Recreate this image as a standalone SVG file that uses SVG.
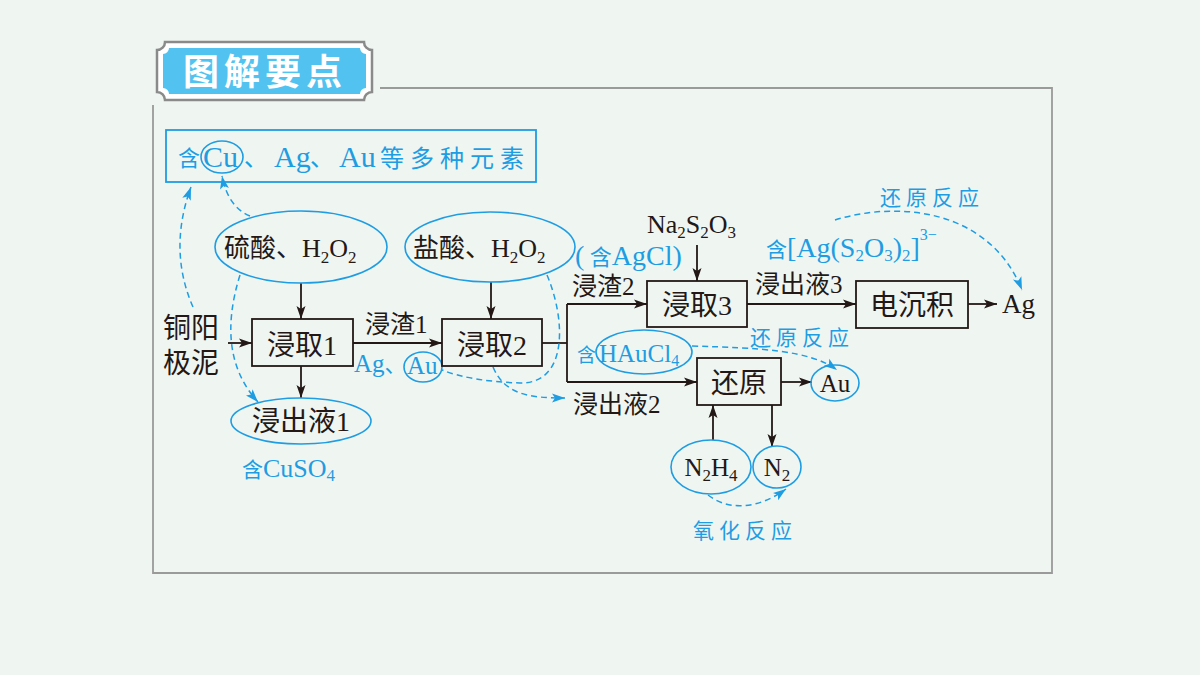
<svg xmlns="http://www.w3.org/2000/svg" width="1200" height="675" viewBox="0 0 1200 675">
<defs>
<marker id="ab" markerUnits="userSpaceOnUse" markerWidth="14" markerHeight="10" refX="13" refY="5" orient="auto"><path d="M0,0.5 L13,5 L0,9.5 L3,5 z" fill="#231815"/></marker>
<marker id="au" markerUnits="userSpaceOnUse" markerWidth="14" markerHeight="10" refX="13" refY="5" orient="auto"><path d="M0,0.5 L13,5 L0,9.5 L3,5 z" fill="#1e9de3"/></marker>
<style>
.bx{fill:none;stroke:#231815;stroke-width:1.8}
.el{fill:none;stroke:#1e9de3;stroke-width:1.6}
.ln{fill:none;stroke:#231815;stroke-width:1.8}
.da{fill:none;stroke:#1e9de3;stroke-width:1.5;stroke-dasharray:6 4}
.t{font-family:"Liberation Serif","Noto Sans CJK SC",serif;fill:#231815;font-size:27px}
.b{font-family:"Liberation Serif","Noto Sans CJK SC",serif;fill:#1e9de3;font-size:26px}
.bc{font-family:"Noto Sans CJK SC",sans-serif;fill:#1e9de3;font-size:21px;letter-spacing:5px}
</style>
</defs>
<rect width="1200" height="675" fill="#eff5f1"/>
<g id="frame">
<path d="M380,88 H1052 V573 H153 V105" fill="none" stroke="#9a9a9a" stroke-width="1.8"/>
</g>
<g id="badge">
<path d="M165,42 H364 A8,8 0 0 0 372,50 V92 A8,8 0 0 0 364,100 H165 A8,8 0 0 0 157,92 V50 A8,8 0 0 0 165,42 z" fill="#ffffff" stroke="#8a8a8a" stroke-width="2.5"/>
<path d="M169,48 H360 A6,6 0 0 0 366,54 V88 A6,6 0 0 0 360,94 H169 A6,6 0 0 0 163,88 V54 A6,6 0 0 0 169,48 z" fill="#52c2f0"/>
<text x="183" y="85" font-family="Noto Sans CJK SC,sans-serif" font-weight="bold" font-size="36" fill="#ffffff" letter-spacing="5">图解要点</text>
</g>
<g id="connectors">
<line class="ln" x1="228" y1="343" x2="252" y2="343" marker-end="url(#ab)"/>
<line class="ln" x1="301" y1="283" x2="301" y2="319" marker-end="url(#ab)"/>
<line class="ln" x1="301" y1="366" x2="301" y2="398" marker-end="url(#ab)"/>
<line class="ln" x1="353" y1="343" x2="442" y2="343" marker-end="url(#ab)"/>
<line class="ln" x1="491" y1="282" x2="491" y2="319" marker-end="url(#ab)"/>
<polyline class="ln" points="542,343 567,343"/>
<line class="ln" x1="567" y1="304" x2="567" y2="382"/>
<line class="ln" x1="567" y1="304" x2="647" y2="304" marker-end="url(#ab)"/>
<line class="ln" x1="567" y1="382" x2="697" y2="382" marker-end="url(#ab)"/>
<line class="ln" x1="697" y1="245" x2="697" y2="281" marker-end="url(#ab)"/>
<line class="ln" x1="747" y1="304" x2="856" y2="304" marker-end="url(#ab)"/>
<line class="ln" x1="968" y1="304" x2="997" y2="304" marker-end="url(#ab)"/>
<line class="ln" x1="781" y1="382" x2="812" y2="382" marker-end="url(#ab)"/>
<line class="ln" x1="713" y1="440" x2="713" y2="405" marker-end="url(#ab)"/>
<line class="ln" x1="772" y1="405" x2="772" y2="447" marker-end="url(#ab)"/>
<path class="da" d="M193,307 Q168,250 191,187" marker-end="url(#au)"/>
<path class="da" d="M250,216 Q228,207 222,176" marker-end="url(#au)"/>
<path class="da" d="M240,275 Q215,355 258,402" marker-end="url(#au)"/>
<path class="da" d="M547,275 C566,320 568,384 520,383 C490,382 462,378 442,370"/>
<path class="da" d="M493,367 C505,395 530,398 565,398" marker-end="url(#au)"/>
<path class="da" d="M835,220 C900,200 990,210 1022,290" marker-end="url(#au)"/>
<path class="da" d="M692,346 C760,348 810,350 837,370" marker-end="url(#au)"/>
<path class="da" d="M708,495 C730,512 760,508 786,489" marker-end="url(#au)"/>
</g>
<g id="top-box">
<rect x="166" y="130" width="370" height="52" fill="none" stroke="#1e9de3" stroke-width="1.8"/>
<ellipse class="el" cx="222" cy="157" rx="21" ry="16"/>
<text class="b" x="178" y="166" style="font-size:22px">含</text>
<text class="b" x="203" y="167" style="font-size:30px">Cu</text>
<text class="b" x="244" y="166" style="font-size:24px">、</text>
<text class="b" x="274" y="167" style="font-size:30px">Ag</text>
<text class="b" x="310" y="166" style="font-size:24px">、</text>
<text class="b" x="339" y="167" style="font-size:30px">Au</text>
<text class="bc" x="380" y="167" style="font-size:24px;letter-spacing:6px">等多种元素</text>
</g>
<g id="copper-mud">
<text class="t" x="163" y="338" style="font-size:28px">铜阳</text>
<text class="t" x="163" y="373" style="font-size:28px">极泥</text>
</g>
<g id="h2so4">
<ellipse class="el" cx="301" cy="247" rx="86" ry="36"/>
<text class="t" x="224" y="257" style="font-size:26px">硫酸、H<tspan font-size="17" dy="6">2</tspan><tspan dy="-6">O</tspan><tspan font-size="17" dy="6">2</tspan></text>
</g>
<g id="hcl">
<ellipse class="el" cx="490" cy="247" rx="85" ry="35"/>
<text class="t" x="413" y="257" style="font-size:26px">盐酸、H<tspan font-size="17" dy="6">2</tspan><tspan dy="-6">O</tspan><tspan font-size="17" dy="6">2</tspan></text>
</g>
<g id="leach1">
<rect class="bx" x="252" y="319" width="101" height="47"/>
<text class="t" x="302" y="355" text-anchor="middle" style="font-size:28px">浸取1</text>
</g>
<g id="leachate1">
<ellipse class="el" cx="301" cy="421" rx="70" ry="23"/>
<text class="t" x="301" y="431" text-anchor="middle" style="font-size:28px">浸出液1</text>
<text class="b" x="242" y="477"><tspan font-size="21">含</tspan>CuSO<tspan font-size="17" dy="4">4</tspan></text>
</g>
<g id="residue1">
<text class="t" x="365" y="333" style="font-size:25px">浸渣1</text>
<text class="b" x="354" y="372" style="font-size:25px">Ag<tspan font-size="22">、</tspan></text>
<ellipse class="el" cx="423" cy="367" rx="19" ry="15"/>
<text class="b" x="407" y="374" style="font-size:25px">Au</text>
</g>
<g id="leach2">
<rect class="bx" x="442" y="319" width="100" height="47"/>
<text class="t" x="492" y="355" text-anchor="middle" style="font-size:28px">浸取2</text>
</g>
<g id="residue2">
<text class="t" x="572" y="295" style="font-size:25px">浸渣2</text>
<text class="b" x="575" y="265" style="font-size:28px">(<tspan font-size="22"> 含</tspan>AgCl)</text>
</g>
<g id="na2s2o3">
<text class="t" x="647" y="233" style="font-size:26px">Na<tspan font-size="17" dy="5">2</tspan><tspan dy="-5">S</tspan><tspan font-size="17" dy="5">2</tspan><tspan dy="-5">O</tspan><tspan font-size="17" dy="5">3</tspan></text>
</g>
<g id="leach3">
<rect class="bx" x="647" y="281" width="100" height="46"/>
<text class="t" x="697" y="315" text-anchor="middle" style="font-size:28px">浸取3</text>
</g>
<g id="leachate3">
<text class="t" x="755" y="293" style="font-size:25px">浸出液3</text>
<text class="b" x="766" y="257" style="font-size:28px"><tspan font-size="21">含</tspan>[Ag(S<tspan font-size="17" dy="4">2</tspan><tspan dy="-4">O</tspan><tspan font-size="17" dy="4">3</tspan><tspan dy="-4">)</tspan><tspan font-size="17" dy="4">2</tspan><tspan dy="-4">]</tspan><tspan font-size="16" dy="-17">3−</tspan></text>
<text class="bc" x="880" y="205">还原反应</text>
</g>
<g id="electro">
<rect class="bx" x="856" y="281" width="112" height="47"/>
<text class="t" x="912" y="315" text-anchor="middle" style="font-size:28px">电沉积</text>
</g>
<g id="ag">
<text class="t" x="1002" y="313" style="font-size:27px">Ag</text>
</g>
<g id="leachate2">
<text class="t" x="573" y="413" style="font-size:25px">浸出液2</text>
<text class="b" x="577" y="362" style="font-size:19px">含</text>
<ellipse class="el" cx="644" cy="352" rx="48" ry="22"/>
<text class="b" x="599" y="362" style="font-size:25px">HAuCl<tspan font-size="16" dy="4">4</tspan></text>
<text class="bc" x="750" y="345">还原反应</text>
</g>
<g id="reduce">
<rect class="bx" x="697" y="358" width="84" height="47"/>
<text class="t" x="739" y="393" text-anchor="middle" style="font-size:28px">还原</text>
</g>
<g id="au">
<ellipse class="el" cx="835" cy="383" rx="24" ry="18"/>
<text class="t" x="835" y="392" text-anchor="middle" style="font-size:25px">Au</text>
</g>
<g id="n2h4">
<ellipse class="el" cx="711" cy="467" rx="40" ry="27"/>
<text class="t" x="711" y="476" text-anchor="middle" style="font-size:25px">N<tspan font-size="17" dy="5">2</tspan><tspan dy="-5">H</tspan><tspan font-size="17" dy="5">4</tspan></text>
</g>
<g id="n2">
<ellipse class="el" cx="777" cy="467" rx="24" ry="21"/>
<text class="t" x="777" y="476" text-anchor="middle" style="font-size:25px">N<tspan font-size="17" dy="5">2</tspan></text>
</g>
<g id="oxid">
<text class="bc" x="693" y="538">氧化反应</text>
</g>
</svg>
